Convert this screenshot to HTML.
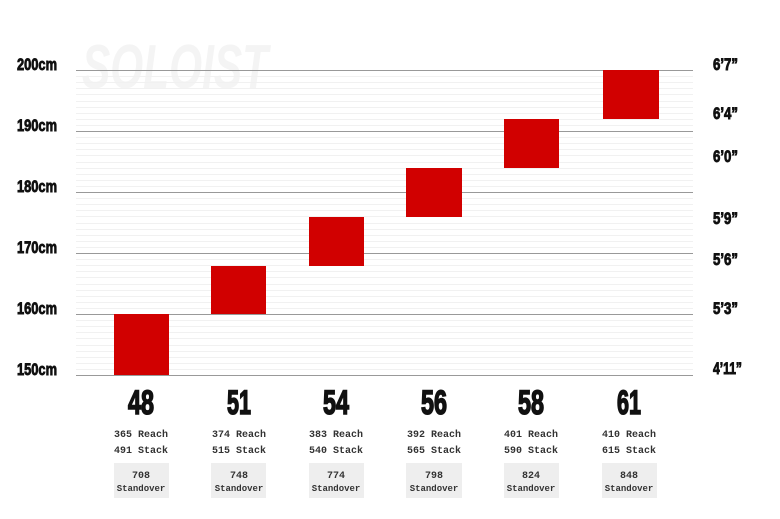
<!DOCTYPE html>
<html><head><meta charset="utf-8"><style>
body{margin:0;background:#fff;}
svg{display:block}
.c{font-family:"Liberation Sans Narrow","Liberation Sans",sans-serif;font-weight:bold;fill:#111;stroke:#111;stroke-width:0.9}
.m{font-family:"Liberation Mono","DejaVu Sans Mono",monospace;font-size:10px;fill:#333;text-anchor:middle;font-weight:bold}
</style></head><body>
<svg width="780" height="519" viewBox="0 0 780 519" xmlns="http://www.w3.org/2000/svg">
<text x="82" y="88" font-family="Liberation Sans Narrow, Liberation Sans, sans-serif" font-weight="bold" font-size="62" font-style="italic" fill="#f4f4f4" textLength="186" lengthAdjust="spacingAndGlyphs">SOLOIST</text>
<g id="minor" stroke="#f1f1f1" stroke-width="1">
</g>
<script>
var g=document.getElementById('minor');
for(var i=0;i<50;i++){ if(i%10==0) continue; var y=Math.round(70+i*6.1)+0.5;
 var l=document.createElementNS('http://www.w3.org/2000/svg','line');
 l.setAttribute('x1',76);l.setAttribute('x2',693);l.setAttribute('y1',y);l.setAttribute('y2',y);g.appendChild(l);}
</script>
<g stroke="#999" stroke-width="1">
<line x1="76" x2="693" y1="70.5" y2="70.5"/>
<line x1="76" x2="693" y1="131.5" y2="131.5"/>
<line x1="76" x2="693" y1="192.5" y2="192.5"/>
<line x1="76" x2="693" y1="253.5" y2="253.5"/>
<line x1="76" x2="693" y1="314.5" y2="314.5"/>
<line x1="76" x2="693" y1="375.5" y2="375.5"/>
</g>
<g fill="#d10000">
<rect x="114" y="314" width="55" height="61"/>
<rect x="211" y="266" width="55" height="48"/>
<rect x="309" y="217" width="55" height="49"/>
<rect x="406" y="168" width="56" height="49"/>
<rect x="504" y="119" width="55" height="49"/>
<rect x="603" y="70" width="56" height="49"/>
</g>
<g class="c" font-size="17">
<text x="17" y="70" textLength="40" lengthAdjust="spacingAndGlyphs">200cm</text>
<text x="17" y="131" textLength="40" lengthAdjust="spacingAndGlyphs">190cm</text>
<text x="17" y="192" textLength="40" lengthAdjust="spacingAndGlyphs">180cm</text>
<text x="17" y="253" textLength="40" lengthAdjust="spacingAndGlyphs">170cm</text>
<text x="17" y="314" textLength="40" lengthAdjust="spacingAndGlyphs">160cm</text>
<text x="17" y="375" textLength="40" lengthAdjust="spacingAndGlyphs">150cm</text>
<text x="713" y="70" textLength="25" lengthAdjust="spacingAndGlyphs">6’7”</text>
<text x="713" y="119" textLength="25" lengthAdjust="spacingAndGlyphs">6’4”</text>
<text x="713" y="162" textLength="25" lengthAdjust="spacingAndGlyphs">6’0”</text>
<text x="713" y="224" textLength="25" lengthAdjust="spacingAndGlyphs">5’9”</text>
<text x="713" y="265" textLength="25" lengthAdjust="spacingAndGlyphs">5’6”</text>
<text x="713" y="314" textLength="25" lengthAdjust="spacingAndGlyphs">5’3”</text>
<text x="713" y="374" textLength="29" lengthAdjust="spacingAndGlyphs">4’11”</text>
</g>
<g class="c" font-size="34" text-anchor="middle" style="stroke-width:1.6">
<text x="141" y="414" textLength="26" lengthAdjust="spacingAndGlyphs">48</text>
<text x="239" y="414" textLength="24" lengthAdjust="spacingAndGlyphs">51</text>
<text x="336" y="414" textLength="26" lengthAdjust="spacingAndGlyphs">54</text>
<text x="434" y="414" textLength="26" lengthAdjust="spacingAndGlyphs">56</text>
<text x="531" y="414" textLength="26" lengthAdjust="spacingAndGlyphs">58</text>
<text x="629" y="414" textLength="24" lengthAdjust="spacingAndGlyphs">61</text>
</g>
<g fill="#eeeeee">
<rect x="114" y="463" width="55" height="35"/>
<rect x="211" y="463" width="55" height="35"/>
<rect x="309" y="463" width="55" height="35"/>
<rect x="406" y="463" width="56" height="35"/>
<rect x="504" y="463" width="55" height="35"/>
<rect x="602" y="463" width="55" height="35"/>
</g>
<g class="m">
<text x="141" y="437">365 Reach</text><text x="141" y="453">491 Stack</text><text x="141" y="478">708</text><text x="141" y="491" font-size="9">Standover</text>
<text x="239" y="437">374 Reach</text><text x="239" y="453">515 Stack</text><text x="239" y="478">748</text><text x="239" y="491" font-size="9">Standover</text>
<text x="336" y="437">383 Reach</text><text x="336" y="453">540 Stack</text><text x="336" y="478">774</text><text x="336" y="491" font-size="9">Standover</text>
<text x="434" y="437">392 Reach</text><text x="434" y="453">565 Stack</text><text x="434" y="478">798</text><text x="434" y="491" font-size="9">Standover</text>
<text x="531" y="437">401 Reach</text><text x="531" y="453">590 Stack</text><text x="531" y="478">824</text><text x="531" y="491" font-size="9">Standover</text>
<text x="629" y="437">410 Reach</text><text x="629" y="453">615 Stack</text><text x="629" y="478">848</text><text x="629" y="491" font-size="9">Standover</text>
</g>
</svg>
</body></html>
